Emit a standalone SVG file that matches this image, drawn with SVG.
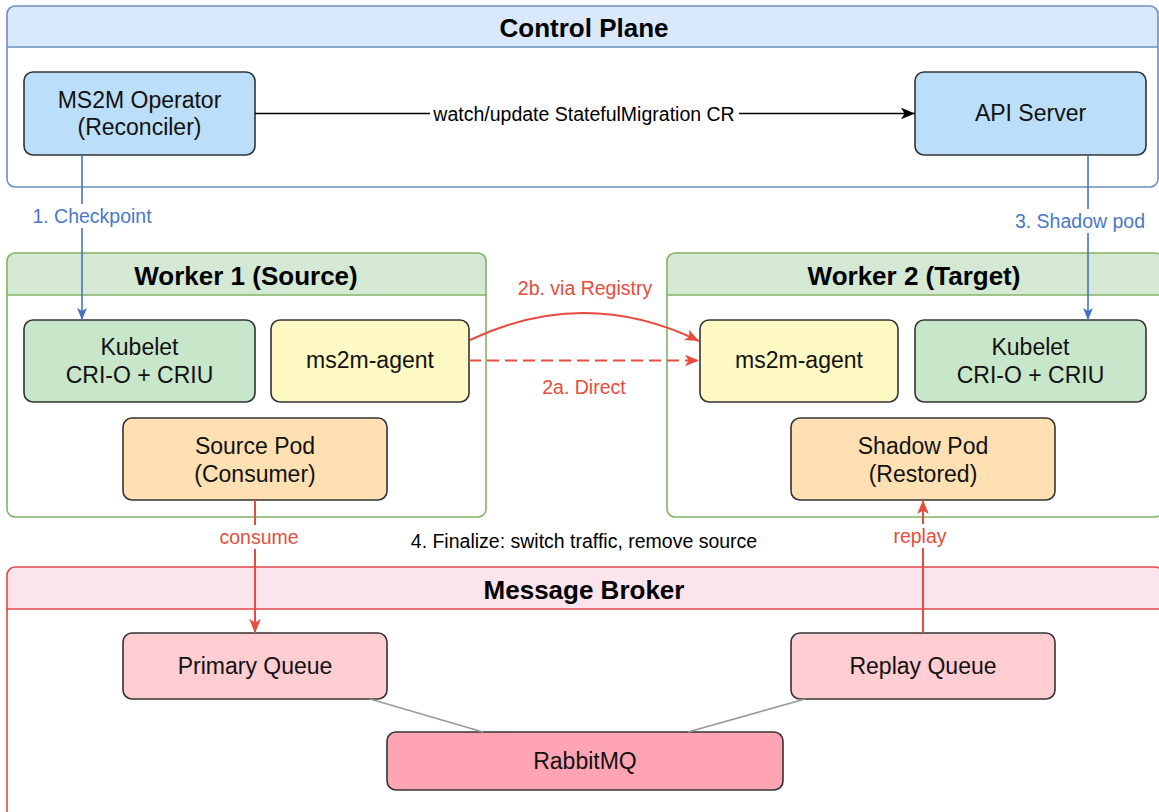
<svg xmlns="http://www.w3.org/2000/svg" width="1159" height="812" viewBox="0 0 1159 812">
<defs>
<style>
text{font-family:"Liberation Sans",Arial,Helvetica,sans-serif;text-anchor:middle}
.title{font-size:26px;font-weight:bold;fill:#000}
.nt{font-size:23px;fill:#111}
.el{font-size:19.5px}
.node{stroke:#333;stroke-width:1.6}
.blue{stroke:#4472c4;stroke-width:1.6;fill:none}
.red{stroke:#e74c3c;stroke-width:2;fill:none}
.lb{fill:#4a78c8}
.lr{fill:#e74c3c}
.bg{fill:#fff}
</style>
<marker id="ab" viewBox="0 0 12 10" refX="12" refY="5" markerWidth="12" markerHeight="10" markerUnits="userSpaceOnUse" orient="auto"><path d="M0,0 L12,5 L0,10 L3,5 Z" fill="#4472c4"/></marker>
<marker id="ar" viewBox="0 0 12 10" refX="12" refY="5" markerWidth="14" markerHeight="12" markerUnits="userSpaceOnUse" orient="auto"><path d="M0,0 L12,5 L0,10 L3,5 Z" fill="#e74c3c"/></marker>
<marker id="ak" viewBox="0 0 12 10" refX="12" refY="5" markerWidth="14" markerHeight="12" markerUnits="userSpaceOnUse" orient="auto"><path d="M0,0 L12,5 L0,10 L3,5 Z" fill="#000"/></marker>
</defs>
<rect width="1159" height="812" fill="#fff"/>

<g id="control-plane">
<path d="M7,47 V14 a8,8 0 0 1 8,-8 H1150 a8,8 0 0 1 8,8 V47 Z" fill="#dae8fc"/>
<rect x="7" y="6" width="1151" height="181" rx="8" fill="none" stroke="#6c8ebf" stroke-width="1.6"/>
<line x1="7" y1="47" x2="1158" y2="47" stroke="#6c8ebf" stroke-width="1.6"/>
<text class="title" x="584" y="37">Control Plane</text>
</g>

<g id="worker1">
<path d="M7,295 V261 a8,8 0 0 1 8,-8 H478 a8,8 0 0 1 8,8 V295 Z" fill="#d5e8d4"/>
<rect x="7" y="253" width="479" height="264" rx="8" fill="none" stroke="#82b366" stroke-width="1.6"/>
<line x1="7" y1="295" x2="486" y2="295" stroke="#82b366" stroke-width="1.6"/>
<text class="title" x="246" y="285">Worker 1 (Source)</text>
</g>

<g id="worker2">
<path d="M667,295 V261 a8,8 0 0 1 8,-8 H1155 a8,8 0 0 1 8,8 V295 Z" fill="#d5e8d4"/>
<rect x="667" y="253" width="496" height="264" rx="8" fill="none" stroke="#82b366" stroke-width="1.6"/>
<line x1="667" y1="295" x2="1163" y2="295" stroke="#82b366" stroke-width="1.6"/>
<text class="title" x="914" y="285">Worker 2 (Target)</text>
</g>

<g id="message-broker">
<path d="M7,609 V575 a8,8 0 0 1 8,-8 H1155 a8,8 0 0 1 8,8 V609 Z" fill="#fce4ec"/>
<rect x="7" y="567" width="1156" height="260" rx="8" fill="none" stroke="#e04848" stroke-width="1.6"/>
<line x1="7" y1="609" x2="1163" y2="609" stroke="#e04848" stroke-width="1.6"/>
<text class="title" x="584" y="599">Message Broker</text>
</g>

<g id="operator">
<rect class="node" x="24" y="72" width="231" height="83" rx="9" fill="#bbdefb"/>
<text class="nt" x="139.5" y="108">MS2M Operator</text>
<text class="nt" x="139.5" y="135">(Reconciler)</text>
</g>
<g id="api-server">
<rect class="node" x="915" y="72" width="231" height="83" rx="9" fill="#bbdefb"/>
<text class="nt" x="1030.5" y="121">API Server</text>
</g>
<g id="kubelet1">
<rect class="node" x="24" y="320" width="231" height="82" rx="9" fill="#c8e6c9"/>
<text class="nt" x="139.5" y="355">Kubelet</text>
<text class="nt" x="139.5" y="383">CRI-O + CRIU</text>
</g>
<g id="agent1">
<rect class="node" x="271" y="320" width="198" height="82" rx="9" fill="#fff9c4"/>
<text class="nt" x="370" y="368">ms2m-agent</text>
</g>
<g id="source-pod">
<rect class="node" x="123" y="418" width="264" height="82" rx="9" fill="#ffe0b2"/>
<text class="nt" x="255" y="454">Source Pod</text>
<text class="nt" x="255" y="482">(Consumer)</text>
</g>
<g id="agent2">
<rect class="node" x="700" y="320" width="198" height="82" rx="9" fill="#fff9c4"/>
<text class="nt" x="799" y="368">ms2m-agent</text>
</g>
<g id="kubelet2">
<rect class="node" x="915" y="320" width="231" height="82" rx="9" fill="#c8e6c9"/>
<text class="nt" x="1030.5" y="355">Kubelet</text>
<text class="nt" x="1030.5" y="383">CRI-O + CRIU</text>
</g>
<g id="shadow-pod">
<rect class="node" x="791" y="418" width="264" height="82" rx="9" fill="#ffe0b2"/>
<text class="nt" x="923" y="454">Shadow Pod</text>
<text class="nt" x="923" y="482">(Restored)</text>
</g>
<g id="primary-queue">
<rect class="node" x="123" y="633" width="264" height="66" rx="9" fill="#ffcdd2"/>
<text class="nt" x="255" y="674">Primary Queue</text>
</g>
<g id="replay-queue">
<rect class="node" x="791" y="633" width="264" height="66" rx="9" fill="#ffcdd2"/>
<text class="nt" x="923" y="674">Replay Queue</text>
</g>
<g id="rabbitmq">
<rect class="node" x="387" y="732" width="396" height="58" rx="9" fill="#ffa4b2"/>
<text class="nt" x="585" y="769">RabbitMQ</text>
</g>

<g id="connectors">
<line x1="255" y1="113.5" x2="915" y2="113.5" stroke="#000" stroke-width="1.6" marker-end="url(#ak)"/>
<rect class="bg" x="430" y="102" width="309" height="24"/>
<text class="el" x="584" y="121" fill="#000">watch/update StatefulMigration CR</text>

<line class="blue" x1="82" y1="155" x2="82" y2="320" marker-end="url(#ab)"/>
<rect class="bg" x="30" y="204" width="125" height="24"/>
<text class="el lb" x="92" y="223">1. Checkpoint</text>

<line class="blue" x1="1088" y1="155" x2="1088" y2="320" marker-end="url(#ab)"/>
<rect class="bg" x="1013" y="209" width="135" height="24"/>
<text class="el lb" x="1080" y="228">3. Shadow pod</text>

<path class="red" d="M470,340 Q585,285.5 699,341" marker-end="url(#ar)"/>
<text class="el lr" x="585" y="295">2b. via Registry</text>
<line class="red" x1="469" y1="360.5" x2="699" y2="360.5" stroke-dasharray="12 6" marker-end="url(#ar)"/>
<text class="el lr" x="584" y="394">2a. Direct</text>

<line class="red" x1="255" y1="500" x2="255" y2="633" marker-end="url(#ar)"/>
<rect class="bg" x="216" y="525" width="86" height="24"/>
<text class="el lr" x="259" y="544">consume</text>

<line class="red" x1="923" y1="633" x2="923" y2="500" marker-end="url(#ar)"/>
<rect class="bg" x="890" y="524" width="62" height="24"/>
<text class="el lr" x="920" y="543">replay</text>

<text class="el" x="584" y="548" fill="#000">4. Finalize: switch traffic, remove source</text>

<line x1="370" y1="699" x2="483" y2="732" stroke="#999" stroke-width="1.6"/>
<line x1="805" y1="699" x2="688" y2="732" stroke="#999" stroke-width="1.6"/>
</g>
</svg>
